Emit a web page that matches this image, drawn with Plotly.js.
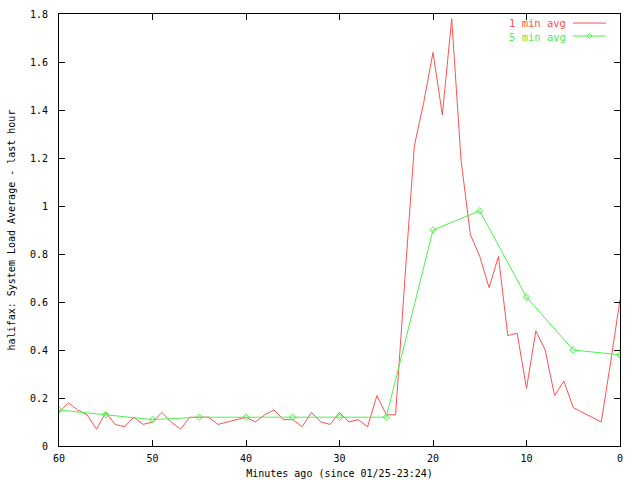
<!DOCTYPE html>
<html>
<head>
<meta charset="utf-8">
<script src="https://cdn.plot.ly/plotly-3.0.1.min.js"></script>
<style>html,body{margin:0;padding:0;background:#fff;}#chart{width:640px;height:480px;}</style>
</head>
<body>
<div id="chart"></div>
<script>
// Minutes ago (1-minute samples, 60 -> 0)
var minutes1 = [60,59,58,57,56,55,54,53,52,51,50,49,48,47,46,45,44,43,42,41,40,39,38,37,36,35,34,33,32,31,30,29,28,27,26,25,24,23,22,21,20,19,18,17,16,15,14,13,12,11,10,9,8,7,6,5,4,3,2,1,0];
var load1 = [0.14,0.18,0.15,0.13,0.07,0.14,0.09,0.08,0.12,0.09,0.10,0.14,0.10,0.07,0.12,0.12,0.12,0.09,0.10,0.11,0.12,0.10,0.13,0.15,0.11,0.11,0.08,0.14,0.10,0.09,0.14,0.10,0.11,0.08,0.21,0.13,0.13,0.70,1.25,1.43,1.64,1.38,1.78,1.19,0.88,0.79,0.66,0.79,0.46,0.47,0.24,0.48,0.40,0.21,0.27,0.16,0.14,0.12,0.10,0.35,0.61];
// 5-minute samples
var minutes5 = [60,55,50,45,40,35,30,25,20,15,10,5,0];
var load5 = [0.15,0.13,0.11,0.12,0.12,0.12,0.12,0.12,0.90,0.98,0.62,0.40,0.38];

var seriesNames = ['1 min avg','5 min avg'];
var xTickVals = [60,50,40,30,20,10,0];
var yTickVals = [0,0.2,0.4,0.6,0.8,1,1.2,1.4,1.6,1.8];

var RED = '#ff5050', GREEN = '#4cf04c';
var FONT = 'DejaVu Sans Mono, Liberation Mono, monospace';

var traces = [
  {x: minutes1, y: load1, name: seriesNames[0], type: 'scatter', mode: 'lines',
   line: {color: RED, width: 1}, showlegend: false},
  {x: minutes5, y: load5, name: seriesNames[1], type: 'scatter', mode: 'lines+markers',
   line: {color: GREEN, width: 1},
   marker: {symbol: 'diamond-open', size: 5, color: GREEN, line: {color: GREEN, width: 1}},
   showlegend: false}
];

// legend drawn gnuplot-style (text then sample line), in paper coordinates
var lx0 = 0.916, lx1 = 0.975, ly1 = 0.979, ly2 = 0.949;
var dx = 0.0045, dy = 0.0058, mx = (lx0 + lx1) / 2;
var legendText = '<span style="color:' + RED + '">' + seriesNames[0] + '</span><br>' +
                 '<span style="color:' + GREEN + '">' + seriesNames[1] + '</span>';
var layout = {
  width: 640, height: 480,
  margin: {l: 59, r: 20, t: 14, b: 34, pad: 0},
  paper_bgcolor: '#fff', plot_bgcolor: '#fff',
  font: {family: FONT, size: 10, color: '#000'},
  xaxis: {
    range: [60, 0], tickvals: xTickVals, ticktext: xTickVals.map(String),
    ticks: 'inside', ticklen: 6, tickcolor: '#000', tickwidth: 1,
    showline: true, linecolor: '#000', linewidth: 1, mirror: 'ticks',
    showgrid: false, zeroline: false, ticklabelstandoff: 3,
    tickfont: {family: FONT, size: 10, color: '#000'},
    title: {text: 'Minutes ago (since 01/25-23:24)', font: {family: FONT, size: 10, color: '#000'}, standoff: 6}
  },
  yaxis: {
    range: [0, 1.8], tickvals: yTickVals, ticktext: yTickVals.map(String),
    ticks: 'inside', ticklen: 6, tickcolor: '#000', tickwidth: 1,
    showline: true, linecolor: '#000', linewidth: 1, mirror: 'ticks',
    showgrid: false, zeroline: false, ticklabelstandoff: 8,
    tickfont: {family: FONT, size: 10, color: '#000'},
    title: {text: 'halifax: System Load Average - last hour', font: {family: FONT, size: 10, color: '#000'}, standoff: 12}
  },
  annotations: [
    {xref: 'paper', yref: 'paper', x: 0.906, y: (ly1 + ly2) / 2, xanchor: 'right', yanchor: 'middle',
     align: 'right', text: legendText, showarrow: false, borderpad: 0,
     font: {family: FONT, size: 10.5, color: RED}}
  ],
  shapes: [
    {type: 'line', xref: 'paper', yref: 'paper', x0: lx0, x1: lx1, y0: ly1, y1: ly1, line: {color: RED, width: 1}},
    {type: 'line', xref: 'paper', yref: 'paper', x0: lx0, x1: lx1, y0: ly2, y1: ly2, line: {color: GREEN, width: 1}},
    {type: 'path', xref: 'paper', yref: 'paper',
     path: 'M ' + (mx - dx) + ',' + ly2 + ' L ' + mx + ',' + (ly2 + dy) + ' L ' + (mx + dx) + ',' + ly2 + ' L ' + mx + ',' + (ly2 - dy) + ' Z',
     line: {color: GREEN, width: 1}}
  ]
};

Plotly.newPlot('chart', traces, layout, {staticPlot: true, displayModeBar: false});
</script>
</body>
</html>
